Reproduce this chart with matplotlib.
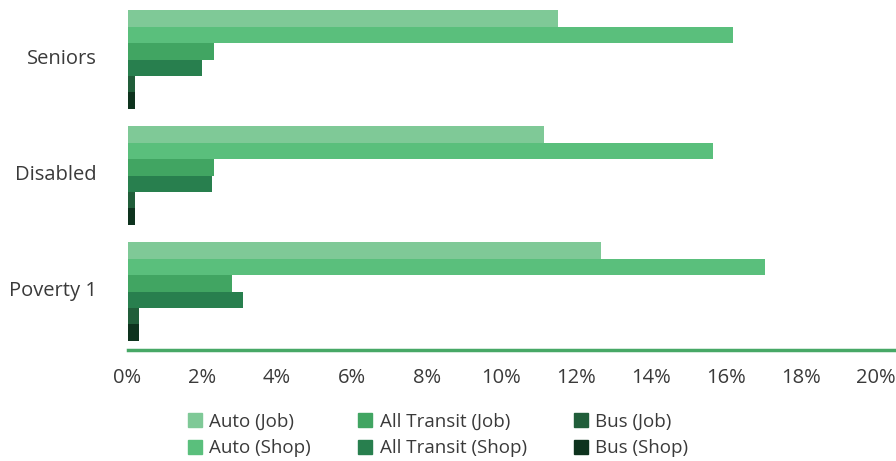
import numpy as np
import matplotlib.pyplot as plt
from matplotlib.patches import Patch

# groups, top to bottom
groups = ["Seniors", "Disabled", "Poverty 1"]

# shares in percent
auto_job = [11.5, 11.15, 12.65]
auto_shop = [16.2, 15.65, 17.05]
transit_job = [2.3, 2.3, 2.8]
transit_shop = [2.0, 2.25, 3.1]
bus_job = [0.2, 0.2, 0.3]
bus_shop = [0.2, 0.2, 0.3]

series = [auto_job, auto_shop, transit_job, transit_shop, bus_job, bus_shop]
names = ["Auto (Job)", "Auto (Shop)", "All Transit (Job)",
         "All Transit (Shop)", "Bus (Job)", "Bus (Shop)"]
colors = ["#7fc997", "#5abf7c", "#41a562", "#287f4e", "#215e3a", "#0e331e"]

xticks = [0, 2, 4, 6, 8, 10, 12, 14, 16, 18, 20]

plt.rcParams['font.family'] = ['Open Sans', 'DejaVu Sans']

fig = plt.figure(figsize=(8.96, 4.61), dpi=100)
ax = fig.add_axes([127.5 / 896, 1 - 349.5 / 461, 1 - 127.5 / 896, 348 / 461])

y = np.arange(len(groups))
h = 0.853 / 6
for i, vals in enumerate(series):
    ax.barh(y - 0.853 / 2 + h * (i + 0.5), vals, height=h, color=colors[i],
            label=names[i])

ax.set_xlim(0, 20.55)
ax.set_ylim(2.5, -0.5)
ax.set_yticks(y - 0.025)
ax.set_yticklabels(groups, fontsize=14.5, color="#3a3a3a")
ax.set_xticks(xticks)
ax.set_xticklabels([f"{t}%" for t in xticks], fontsize=14.5, color="#3a3a3a")
ax.tick_params(length=0)
ax.tick_params(axis="y", pad=22)
ax.tick_params(axis="x", pad=13)

for s in ["top", "right", "left"]:
    ax.spines[s].set_visible(False)
ax.spines["bottom"].set_color("#47a866")
ax.spines["bottom"].set_linewidth(2.5)

# legend, filled column by column in three columns
fig.legend([Patch(color=c) for c in colors], names, ncol=3, loc="center",
           bbox_to_anchor=(438 / 896, 1 - 435 / 461), frameon=False,
           fontsize=13.5, handlelength=0.75, handleheight=0.75,
           handletextpad=0.4, columnspacing=2.5, labelspacing=0.45,
           labelcolor="#3a3a3a")

plt.savefig("out.png", dpi=100)
